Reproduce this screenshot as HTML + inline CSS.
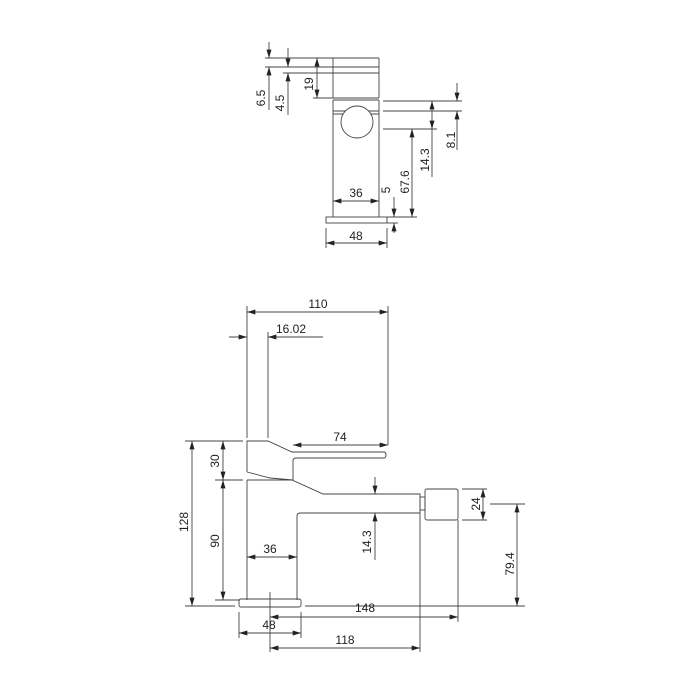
<!DOCTYPE html>
<html><head><style>body{margin:0;background:#fff}svg{display:block}text{font-family:"Liberation Sans",sans-serif;font-size:12px;fill:#222}</style></head>
<body>
<svg width="700" height="700" viewBox="0 0 700 700" xmlns="http://www.w3.org/2000/svg">
<defs>
<marker id="a" viewBox="0 0 10 6" refX="10" refY="3" markerWidth="10" markerHeight="5" markerUnits="userSpaceOnUse" orient="auto-start-reverse"><path d="M0,0L10,3L0,6z" fill="#222"/></marker>
</defs>
<g stroke="#444" stroke-width="0.9" fill="none">
<rect x="333" y="58" width="46" height="40" rx="1"/>
<line x1="333" y1="67" x2="379" y2="67"/><line x1="333" y1="73" x2="379" y2="73"/>
<path d="M333,100V217M379,100V217M333,100H379"/>
<line x1="333" y1="111" x2="379" y2="111"/><line x1="333" y1="114" x2="379" y2="114"/>
<circle cx="357" cy="122" r="16" fill="#fff"/>
<rect x="326" y="217" width="61" height="6"/>
<line x1="265" y1="58" x2="333" y2="58"/><line x1="265" y1="67" x2="333" y2="67"/><line x1="283" y1="73" x2="333" y2="73"/><line x1="313" y1="98" x2="333" y2="98"/>
<line x1="269" y1="42" x2="269" y2="58" marker-end="url(#a)"/><line x1="269" y1="110" x2="269" y2="67" marker-end="url(#a)"/>
<line x1="288" y1="48" x2="288" y2="67" marker-end="url(#a)"/><line x1="288" y1="115" x2="288" y2="73" marker-end="url(#a)"/>
<line x1="317" y1="58" x2="317" y2="98" marker-start="url(#a)" marker-end="url(#a)"/>
<line x1="383" y1="101" x2="462" y2="101"/><line x1="383" y1="111" x2="462" y2="111"/><line x1="383" y1="129" x2="437" y2="129"/>
<line x1="457" y1="83" x2="457" y2="101" marker-end="url(#a)"/><line x1="457" y1="150" x2="457" y2="111" marker-end="url(#a)"/>
<line x1="432" y1="101" x2="432" y2="129" marker-start="url(#a)" marker-end="url(#a)"/><line x1="432" y1="129" x2="432" y2="177"/>
<line x1="412" y1="129" x2="412" y2="217" marker-start="url(#a)" marker-end="url(#a)"/>
<line x1="387" y1="217" x2="417" y2="217"/><line x1="387" y1="223" x2="398" y2="223"/>
<line x1="394" y1="197" x2="394" y2="217" marker-end="url(#a)"/><line x1="394" y1="233" x2="394" y2="223" marker-end="url(#a)"/>
<line x1="333" y1="201" x2="379" y2="201" marker-start="url(#a)" marker-end="url(#a)"/>
<line x1="326" y1="228" x2="326" y2="248"/><line x1="387" y1="228" x2="387" y2="248"/>
<line x1="326" y1="243" x2="387" y2="243" marker-start="url(#a)" marker-end="url(#a)"/>
<path d="M247,472V441H268L292,452H384Q386,452 386,455Q386,458 384,458H296Q293,458 293,461V480"/>
<path d="M247,472L270,478L293,480"/>
<path d="M247,480H292L323,494H420V513H300Q297,513 297,516V600M247,480V600"/>
<rect x="420" y="497" width="5" height="13"/>
<rect x="425" y="489" width="33" height="31" rx="2"/>
<rect x="239" y="599" width="62" height="8" rx="2"/>
<line x1="247" y1="306" x2="247" y2="438"/><line x1="388" y1="306" x2="388" y2="445"/>
<line x1="247" y1="312" x2="388" y2="312" marker-start="url(#a)" marker-end="url(#a)"/>
<line x1="268" y1="332" x2="268" y2="438"/>
<line x1="229" y1="337" x2="247" y2="337" marker-end="url(#a)"/><line x1="323" y1="337" x2="268" y2="337" marker-end="url(#a)"/>
<line x1="293" y1="445" x2="388" y2="445" marker-start="url(#a)" marker-end="url(#a)"/>
<line x1="185" y1="441" x2="243" y2="441"/><line x1="185" y1="606" x2="235" y2="606"/>
<line x1="192" y1="441" x2="192" y2="606" marker-start="url(#a)" marker-end="url(#a)"/>
<line x1="215" y1="480" x2="243" y2="480"/><line x1="215" y1="600" x2="240" y2="600"/>
<line x1="223" y1="441" x2="223" y2="480" marker-start="url(#a)" marker-end="url(#a)"/>
<line x1="223" y1="480" x2="223" y2="600" marker-start="url(#a)" marker-end="url(#a)"/>
<line x1="247" y1="557" x2="297" y2="557" marker-start="url(#a)" marker-end="url(#a)"/>
<line x1="375" y1="477" x2="375" y2="494" marker-end="url(#a)"/><line x1="375" y1="560" x2="375" y2="513" marker-end="url(#a)"/>
<line x1="462" y1="489" x2="487" y2="489"/><line x1="462" y1="520" x2="487" y2="520"/>
<line x1="483" y1="489" x2="483" y2="520" marker-start="url(#a)" marker-end="url(#a)"/>
<line x1="490" y1="504" x2="525" y2="504"/><line x1="305" y1="606" x2="525" y2="606"/>
<line x1="517" y1="504" x2="517" y2="606" marker-start="url(#a)" marker-end="url(#a)"/>
<line x1="458" y1="520" x2="458" y2="622"/>
<line x1="270" y1="592" x2="270" y2="652"/><line x1="420" y1="513" x2="420" y2="652"/>
<line x1="270" y1="617" x2="458" y2="617" marker-start="url(#a)" marker-end="url(#a)"/>
<line x1="239" y1="612" x2="239" y2="638"/><line x1="301" y1="612" x2="301" y2="638"/>
<line x1="239" y1="633" x2="301" y2="633" marker-start="url(#a)" marker-end="url(#a)"/>
<line x1="270" y1="648" x2="420" y2="648" marker-start="url(#a)" marker-end="url(#a)"/>
</g>
<g>
<text transform="translate(265,98) rotate(-90)" text-anchor="middle">6.5</text>
<text transform="translate(284,103) rotate(-90)" text-anchor="middle">4.5</text>
<text transform="translate(313,84) rotate(-90)" text-anchor="middle">19</text>
<text transform="translate(455,140) rotate(-90)" text-anchor="middle">8.1</text>
<text transform="translate(429,160) rotate(-90)" text-anchor="middle">14.3</text>
<text transform="translate(409,182) rotate(-90)" text-anchor="middle">67.6</text>
<text transform="translate(390,190) rotate(-90)" text-anchor="middle">5</text>
<text x="356" y="197" text-anchor="middle">36</text>
<text x="356" y="240" text-anchor="middle">48</text>
<text x="318" y="308" text-anchor="middle">110</text>
<text x="291" y="333" text-anchor="middle">16.02</text>
<text x="340" y="441" text-anchor="middle">74</text>
<text transform="translate(188,522) rotate(-90)" text-anchor="middle">128</text>
<text transform="translate(219,461) rotate(-90)" text-anchor="middle">30</text>
<text transform="translate(219,541) rotate(-90)" text-anchor="middle">90</text>
<text x="270" y="553" text-anchor="middle">36</text>
<text transform="translate(371,542) rotate(-90)" text-anchor="middle">14.3</text>
<text transform="translate(480,504) rotate(-90)" text-anchor="middle">24</text>
<text transform="translate(514,564) rotate(-90)" text-anchor="middle">79.4</text>
<text x="365" y="612" text-anchor="middle">148</text>
<text x="269" y="629" text-anchor="middle">48</text>
<text x="345" y="644" text-anchor="middle">118</text>
</g>
</svg>
</body></html>
